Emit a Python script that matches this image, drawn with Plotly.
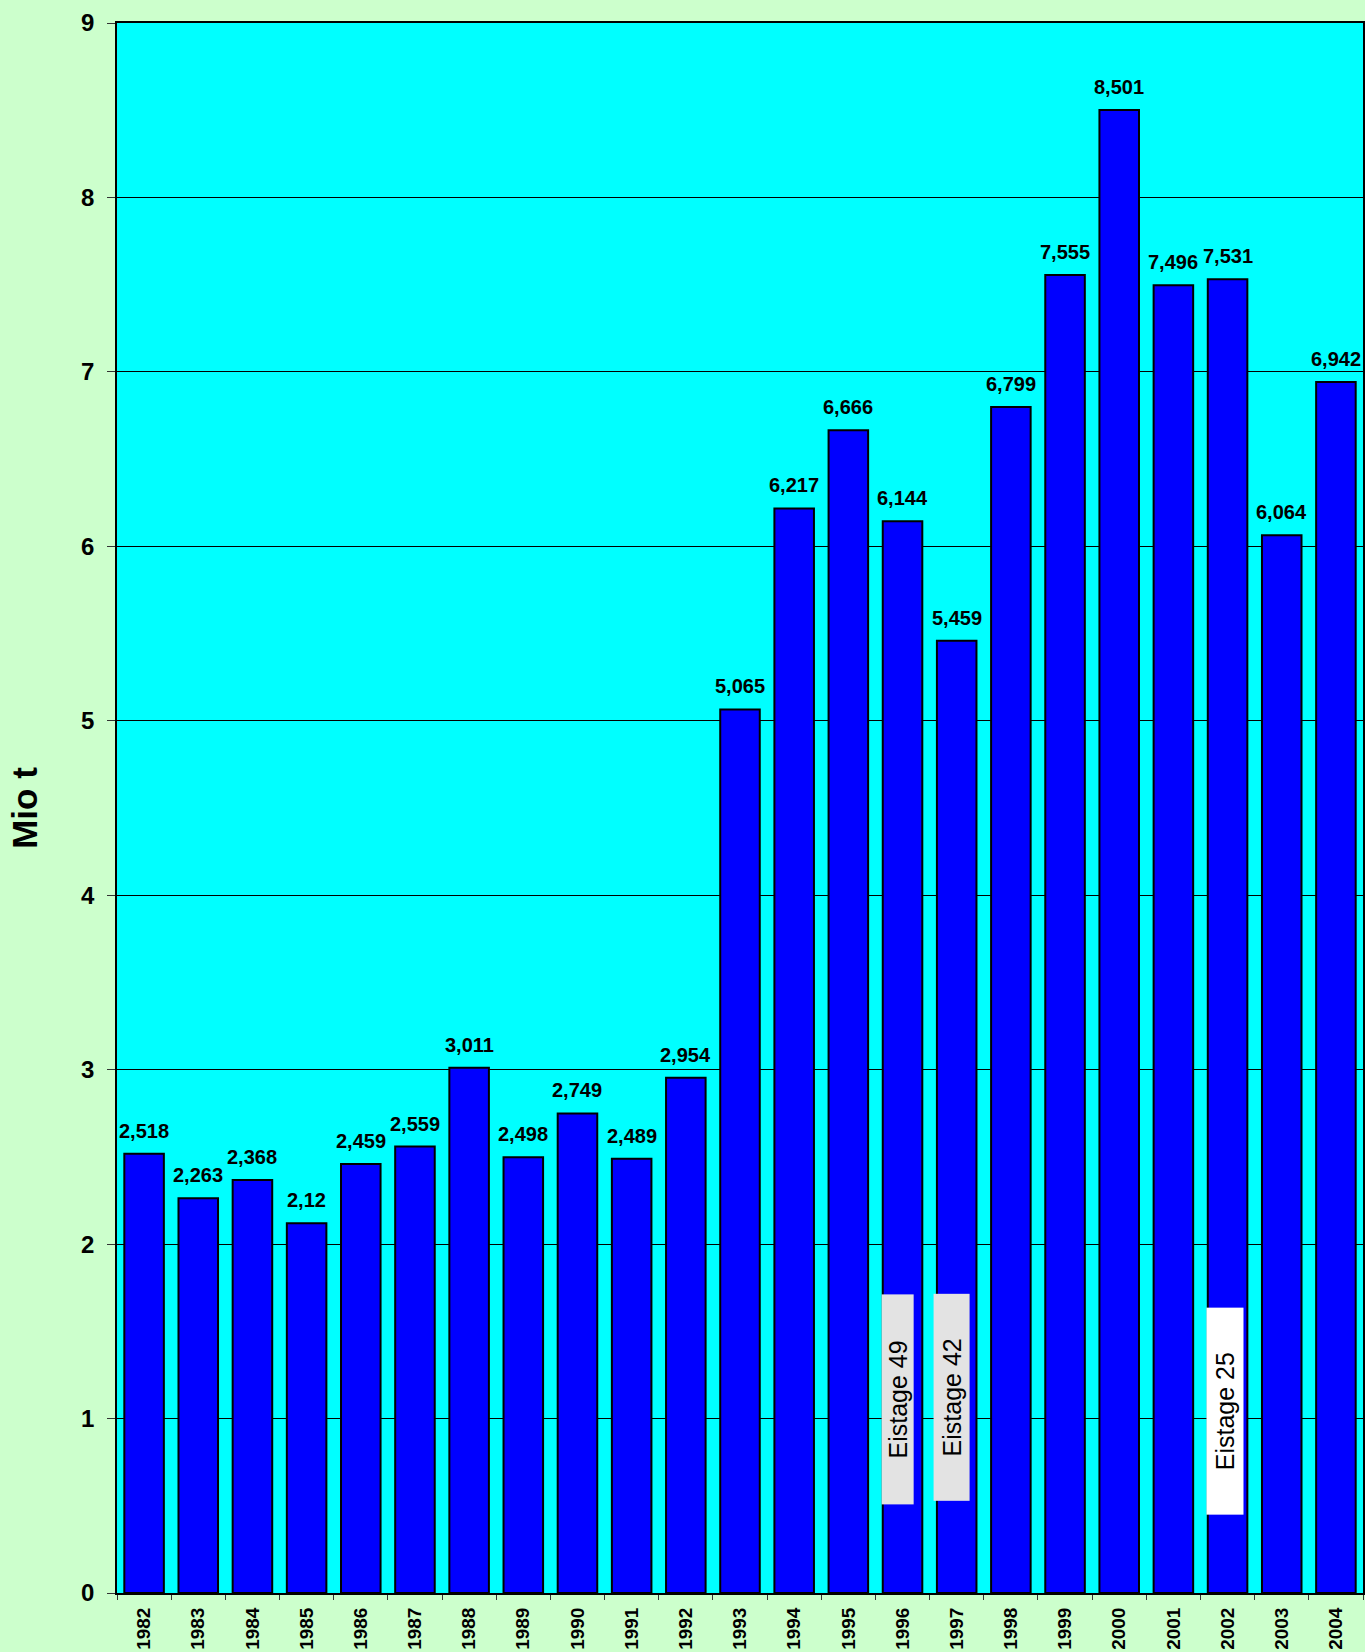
import plotly.graph_objects as go

years = ["1982", "1983", "1984", "1985", "1986", "1987", "1988", "1989", "1990", "1991",
         "1992", "1993", "1994", "1995", "1996", "1997", "1998", "1999", "2000", "2001",
         "2002", "2003", "2004"]
values = [2.518, 2.263, 2.368, 2.12, 2.459, 2.559, 3.011, 2.498, 2.749, 2.489,
          2.954, 5.065, 6.217, 6.666, 6.144, 5.459, 6.799, 7.555, 8.501, 7.496,
          7.531, 6.064, 6.942]
value_labels = ["2,518", "2,263", "2,368", "2,12", "2,459", "2,559", "3,011", "2,498", "2,749", "2,489",
                "2,954", "5,065", "6,217", "6,666", "6,144", "5,459", "6,799", "7,555", "8,501", "7,496",
                "7,531", "6,064", "6,942"]
y_ticks = [0, 1, 2, 3, 4, 5, 6, 7, 8, 9]

# Ice-day notes: (year, text, y-centre in Mio t, background)
notes_year = ["1996", "1997", "2002"]
notes_text = ["Eistage 49", "Eistage 42", "Eistage 25"]
notes_y = [1.11, 1.12, 1.04]
notes_bg = ["#E3E3E3", "#E3E3E3", "#FFFFFF"]

FONT = "Liberation Sans, Arial, sans-serif"

fig = go.Figure()
fig.add_trace(go.Bar(
    x=years, y=values,
    marker=dict(color="#0000FF", line=dict(color="#000000", width=2)),
    hoverinfo="x+y",
))

annotations = []
for i, (v, lab) in enumerate(zip(values, value_labels)):
    annotations.append(dict(
        x=i, y=v, xref="x", yref="y", text="<b>%s</b>" % lab,
        showarrow=False, yanchor="bottom", yshift=10,
        font=dict(family=FONT, size=20, color="#000000"),
    ))

note_shift = {"1996": -5, "1997": -5, "2002": -3}
note_len = {"1996": 209, "1997": 206, "2002": 206}
note_w = {"1996": 31, "1997": 35, "2002": 36}
for yr, txt, yc, bg in zip(notes_year, notes_text, notes_y, notes_bg):
    annotations.append(dict(
        x=years.index(yr), y=yc, xref="x", yref="y", text=txt, showarrow=False,
        textangle=-90, bgcolor=bg, borderpad=0,
        width=note_len[yr], height=note_w[yr], xshift=note_shift[yr],
        font=dict(family=FONT, size=25, color="#000000"),
    ))

fig.update_layout(
    width=1365, height=1652,
    margin=dict(l=117, r=2, t=23, b=55, pad=0),
    paper_bgcolor="#CCFFCC",
    plot_bgcolor="#00FFFF",
    bargap=0.27,
    showlegend=False,
    annotations=annotations,
    font=dict(family=FONT, color="#000000"),
)

fig.update_xaxes(
    type="category",
    range=[-0.5, len(years) - 0.5],
    showline=True, linecolor="#000000", linewidth=2, mirror=True,
    ticks="outside", ticklen=5, tickcolor="#333333", tickwidth=1,
    tickson="boundaries",
    tickangle=-90,
    tickfont=dict(family=FONT, size=19, color="#000000", weight="bold"),
    ticklabelstandoff=5,
    showgrid=False,
)
fig.update_yaxes(
    range=[0, 9],
    tickvals=y_ticks,
    ticktext=["<b>%d</b>" % t for t in y_ticks],
    showline=True, linecolor="#000000", linewidth=1.5, mirror=True,
    ticks="outside", ticklen=8, tickcolor="#333333", tickwidth=1,
    tickfont=dict(family=FONT, size=24, color="#000000"),
    ticklabelstandoff=8,
    showgrid=True, gridcolor="#000000", gridwidth=1,
    zeroline=False,
    title=dict(text="<b>Mio t</b>", font=dict(family=FONT, size=35, color="#000000"), standoff=33),
    automargin=False,
)

fig.write_html("out.html", config={"displayModeBar": False},
               post_script="document.body.style.margin='0';")
